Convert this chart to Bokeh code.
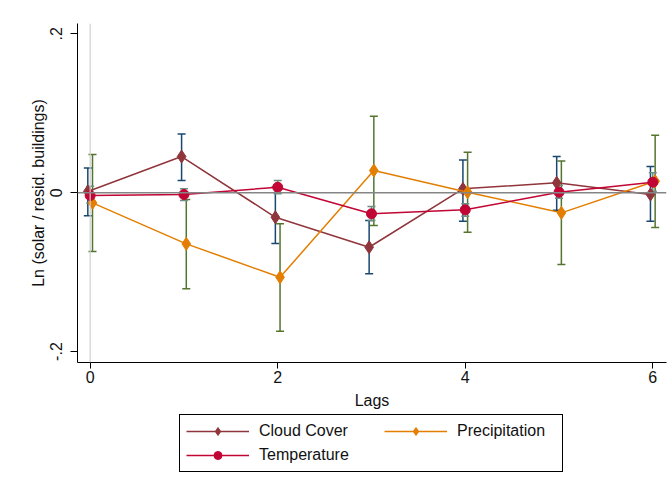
from bokeh.plotting import figure
from bokeh.layouts import column
from bokeh.models import (Range1d, FixedTicker, Span, Whisker, TeeHead,
                          ColumnDataSource, Legend, LegendItem)
from bokeh.embed import file_html
from bokeh.resources import INLINE

# Lag structure of weather effects on Ln(solar / residential buildings)
lags = [0, 1, 2, 3, 4, 5, 6]

cloud = [0.0014, 0.0455, -0.0310, -0.0687, 0.0048, 0.0124, -0.0023]
cloud_lo = [-0.029, 0.0153, -0.064, -0.102, -0.036, -0.022, -0.036]
cloud_hi = [0.031, 0.074, 0.0069, -0.035, 0.041, 0.0455, 0.033]

precip = [-0.0128, -0.0644, -0.1065, 0.0279, 0.0006, -0.0254, 0.0144]
precip_lo = [-0.074, -0.121, -0.1744, -0.0414, -0.0498, -0.0905, -0.0439]
precip_hi = [0.048, -0.0086, -0.039, 0.0963, 0.051, 0.040, 0.0723]

temp = [-0.0036, -0.0023, 0.0069, -0.0266, -0.0216, 0.0006, 0.0132]
temp_lo = [-0.013, -0.0099, -0.0015, -0.035, -0.0297, -0.007, 0.0018]
temp_hi = [0.008, 0.0048, 0.0153, -0.0174, -0.014, 0.009, 0.025]

x_ticks = [0, 2, 4, 6]
y_ticks = [-0.2, 0, 0.2]
y_tick_labels = {-0.2: "-.2", 0: "0", 0.2: ".2"}

FONT = "Liberation Sans"

p = figure(width=672, height=412, output_backend="svg", toolbar_location=None,
           x_range=Range1d(-0.135, 6.146), y_range=Range1d(-0.2138, 0.213),
           min_border_left=77, min_border_right=6, min_border_top=23,
           min_border_bottom=50)
p.outline_line_color = None
p.xgrid.visible = False
p.ygrid.visible = False
p.background_fill_color = "white"
p.border_fill_color = "white"

# reference lines at lag 0 and zero effect
p.add_layout(Span(location=0, dimension="height", line_color="#cfcfcf", line_width=1.2))
p.add_layout(Span(location=0, dimension="width", line_color="#858585", line_width=1.6))

series = {
    "Cloud Cover": (cloud, cloud_lo, cloud_hi, -0.025, "#90353b", "#1a476f", "diamond", 13),
    "Precipitation": (precip, precip_lo, precip_hi, 0.025, "#e37e00", "#55752f", "diamond", 13),
    "Temperature": (temp, temp_lo, temp_hi, 0.0, "#c10534", "#6e8e84", "circle", 10),
}

# key strip below the chart
lg = figure(width=672, height=80, output_backend="svg", toolbar_location=None,
            x_range=Range1d(0, 1), y_range=Range1d(0, 1),
            x_axis_location=None, y_axis_location=None,
            min_border=0, min_border_left=0, min_border_right=0,
            min_border_top=0, min_border_bottom=0)
lg.xgrid.visible = False
lg.ygrid.visible = False
lg.outline_line_color = None
lg.border_fill_color = "white"
lg.background_fill_color = "white"

items = {}
for name, (est, lo, hi, shift, col, ci_col, marker, size) in series.items():
    src = ColumnDataSource(dict(x=[l + shift for l in lags], y=est, lo=lo, hi=hi))
    w = Whisker(source=src, base="x", upper="hi", lower="lo", dimension="height",
                line_color=ci_col, line_width=1.5,
                upper_head=TeeHead(size=8, line_color=ci_col, line_width=1.5),
                lower_head=TeeHead(size=8, line_color=ci_col, line_width=1.5))
    p.add_layout(w)
    p.line("x", "y", source=src, line_color=col, line_width=1.5)
    p.scatter("x", "y", source=src, marker=marker, size=size,
              fill_color=col, line_color=col)
    # off-canvas stand-ins so the key can draw each series' style
    key = ColumnDataSource(dict(x=[-5, -6], y=[-5, -6]))
    kl = lg.line("x", "y", source=key, line_color=col, line_width=1.5)
    ks = lg.scatter("x", "y", source=key, marker=marker, size=size,
                    fill_color=col, line_color=col)
    items[name] = LegendItem(label=name, renderers=[kl, ks])

key_style = dict(label_text_font=FONT, label_text_font_size="16px",
                 label_text_color="#111111", glyph_width=63, glyph_height=20,
                 label_standoff=10, spacing=4, padding=6, margin=0, label_height=20)

# boxed key: first column, stretched to span the full key width
left_key = Legend(items=[items["Cloud Cover"], items["Temperature"]],
                  location=(102, 20), label_width=297,
                  border_line_color="black", border_line_width=1, border_line_alpha=1,
                  background_fill_color="white", background_fill_alpha=1,
                  **key_style)
# second column sits inside the same box
right_key = Legend(items=[items["Precipitation"]], location=(307, 51),
                   border_line_color=None, background_fill_alpha=0,
                   **key_style)
lg.add_layout(left_key, "center")
lg.add_layout(right_key, "center")

for ax in (p.xaxis[0], p.yaxis[0]):
    ax.axis_line_color = "black"
    ax.axis_line_width = 1
    ax.major_tick_line_color = "black"
    ax.major_tick_in = 0
    ax.minor_tick_line_color = None
    ax.major_label_text_font = FONT
    ax.major_label_text_font_size = "16px"
    ax.major_label_text_color = "#111111"
    ax.axis_label_text_font = FONT
    ax.axis_label_text_font_size = "16px"
    ax.axis_label_text_font_style = "normal"
    ax.axis_label_text_color = "#111111"

p.xaxis.ticker = FixedTicker(ticks=x_ticks)
p.xaxis.major_tick_out = 6
p.xaxis.major_label_standoff = 2
p.xaxis.axis_label = "Lags"
p.xaxis.axis_label_standoff = 6

p.yaxis.ticker = FixedTicker(ticks=y_ticks)
p.yaxis.major_label_overrides = y_tick_labels
p.yaxis.major_label_orientation = "vertical"
p.yaxis.major_tick_out = 7
p.yaxis.major_label_standoff = 8
p.yaxis.axis_label = "Ln (solar / resid. buildings)"
p.yaxis.axis_label_standoff = 1

layout = column(p, lg, spacing=0)
open("out.html", "w").write(file_html(layout, INLINE))
